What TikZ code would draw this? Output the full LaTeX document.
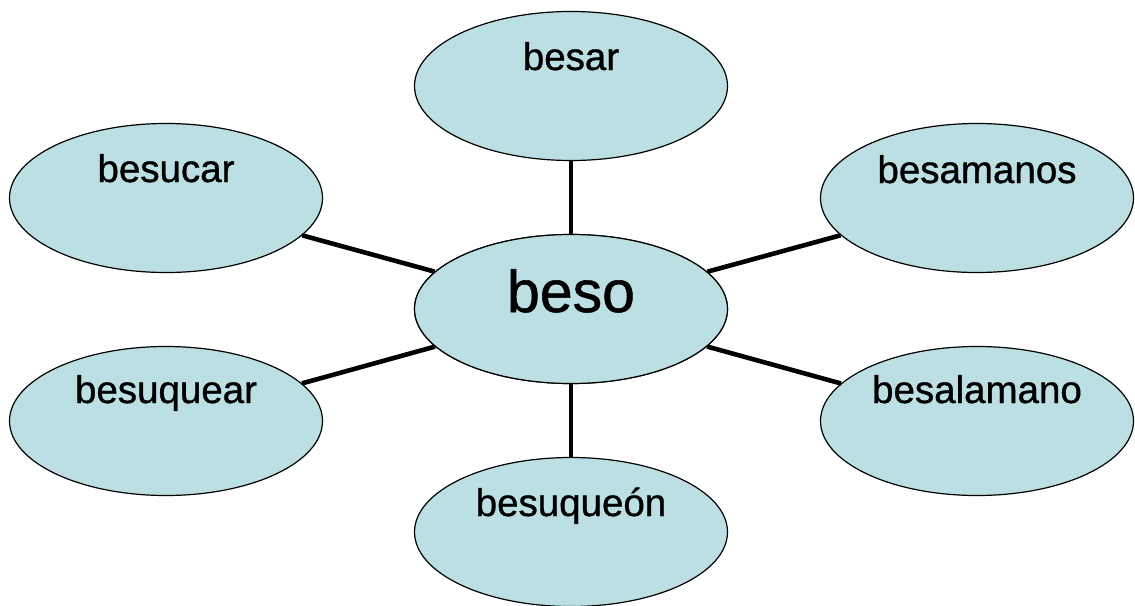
\documentclass[tikz,border=0pt]{standalone}
\usepackage{fontspec}
\setmainfont[FakeBold=0.9]{Liberation Sans}
\usetikzlibrary{shapes.geometric}
\definecolor{bubble}{HTML}{BBDFE3}
\tikzset{
  bub/.style={ellipse, draw=black, line width=1.2pt, fill=bubble, minimum width=313pt, minimum height=149pt, inner sep=0pt},
  word/.style={anchor=base, inner sep=0pt, font=\fontsize{38.5}{44}\selectfont},
  bigword/.style={anchor=base, inner sep=0pt, font=\fontsize{59}{66}\selectfont},
  link/.style={line width=4.6pt}
}
\begin{document}
\begin{tikzpicture}[x=1pt,y=-1pt]
\useasboundingbox (0,0) rectangle (1135,605);
\node[bub] (beso) at (571,309) {};
\node[bub] (besar) at (571,86) {};
\node[bub] (besucar) at (166,198) {};
\node[bub] (besamanos) at (977,198) {};
\node[bub] (besuquear) at (166,421) {};
\node[bub] (besalamano) at (977,421) {};
\node[bub] (besuqueon) at (571,532) {};
\foreach \n in {besar,besucar,besamanos,besuquear,besalamano,besuqueon}
  \draw[link] (beso) -- (\n);
\node[bub] at (beso.center) {};
\node[bigword] (t-beso) at ([yshift=-3pt]beso.center) {beso};
\node[word] (t-besar) at ([yshift=16pt]besar.center) {besar};
\node[word] (t-besucar) at ([yshift=16pt]besucar.center) {besucar};
\node[word] (t-besamanos) at ([yshift=15pt]besamanos.center) {besamanos};
\node[word] (t-besuquear) at ([yshift=18pt]besuquear.center) {besuquear};
\node[word] (t-besalamano) at ([yshift=18pt]besalamano.center) {besalamano};
\node[word] (t-besuqueon) at ([yshift=16pt]besuqueon.center) {besuqueón};
\end{tikzpicture}
\end{document}
